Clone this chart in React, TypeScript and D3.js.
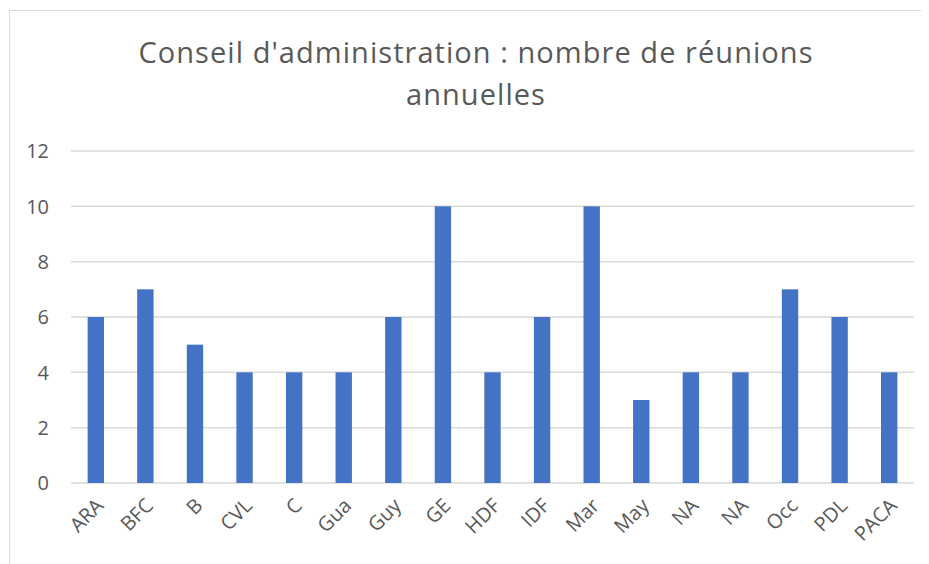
import { useEffect, useRef } from "react";
import * as d3 from "d3";

const categories = ["ARA", "BFC", "B", "CVL", "C", "Gua", "Guy", "GE", "HDF", "IDF", "Mar", "May", "NA", "NA", "Occ", "PDL", "PACA"];
const reunions = [6, 7, 5, 4, 4, 4, 6, 10, 4, 6, 10, 3, 4, 4, 7, 6, 4];
const yTicks = [0, 2, 4, 6, 8, 10, 12];
const titleLines = ["Conseil d'administration : nombre de réunions", "annuelles"];

const App = () => {
  const width = 929;
  const height = 564;
  const margin = { top: 151, right: 15, bottom: 81, left: 71 };
  const innerWidth = width - margin.left - margin.right;
  const innerHeight = height - margin.top - margin.bottom;
  const svgRef = useRef(null);

  useEffect(() => {
    const svg = d3.select(svgRef.current);
    svg.selectAll("*").remove();
    const font = "'Open Sans', sans-serif";
    const textColor = "#595959";

    // frame
    svg
      .append("rect")
      .attr("x", 9.5)
      .attr("y", 10.5)
      .attr("width", 930)
      .attr("height", 570)
      .attr("fill", "white")
      .attr("stroke", "#d9d9d9");

    svg
      .append("text")
      .attr("x", 476)
      .attr("y", 63)
      .attr("text-anchor", "middle")
      .attr("font-family", font)
      .attr("font-size", 29)
      .attr("letter-spacing", 1.05)
      .attr("fill", textColor)
      .selectAll("tspan")
      .data(titleLines)
      .enter()
      .append("tspan")
      .attr("x", 476)
      .attr("dy", (d, i) => (i === 0 ? 0 : 42))
      .text((d) => d);

    const x = d3
      .scaleBand()
      .domain(categories.map((d, i) => String(i)))
      .range([0, innerWidth])
      .paddingInner(0.67)
      .paddingOuter(0.335);
    const y = d3.scaleLinear().domain([0, 12]).range([innerHeight, 0]);

    const g = svg.append("g").attr("transform", `translate(${margin.left},${margin.top})`);

    g.selectAll(".grid")
      .data(yTicks)
      .enter()
      .append("line")
      .attr("x1", 0)
      .attr("x2", innerWidth)
      .attr("y1", (d) => y(d))
      .attr("y2", (d) => y(d))
      .attr("stroke", "#d9d9d9")
      .attr("stroke-width", 1.5);

    g.selectAll(".ylab")
      .data(yTicks)
      .enter()
      .append("text")
      .attr("x", -22)
      .attr("y", (d) => y(d))
      .attr("dy", "0.36em")
      .attr("text-anchor", "end")
      .attr("font-family", font)
      .attr("font-size", 20)
      .attr("fill", textColor)
      .text((d) => d);

    g.selectAll("rect.bar")
      .data(reunions)
      .enter()
      .append("rect")
      .attr("class", "bar")
      .attr("x", (d, i) => x(String(i)))
      .attr("y", (d) => y(d))
      .attr("width", x.bandwidth())
      .attr("height", (d) => innerHeight - y(d))
      .attr("fill", "#4472c4");

    g.selectAll(".xlab")
      .data(categories)
      .enter()
      .append("text")
      .attr(
        "transform",
        (d, i) => `translate(${x(String(i)) + x.bandwidth() / 2 + 4},${innerHeight + 19}) rotate(-45)`
      )
      .attr("text-anchor", "end")
      .attr("dy", "0.35em")
      .attr("font-family", font)
      .attr("font-size", 20)
      .attr("fill", textColor)
      .text((d) => d);
  }, []);

  return (
    <svg
      ref={svgRef}
      width={width + 8}
      height={height + 8}
      style={{ display: "block", margin: "-8px 0 0 -8px" }}
    ></svg>
  );
};

export default App;
